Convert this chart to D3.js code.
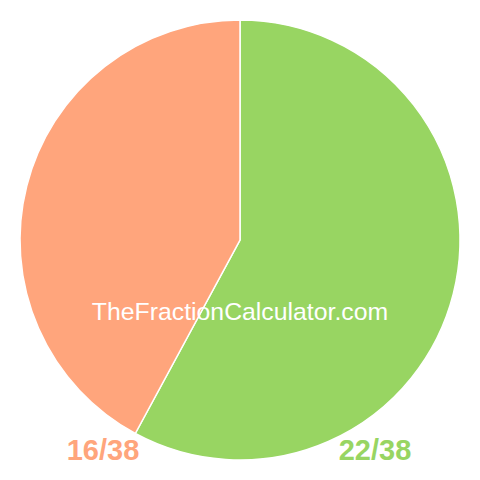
<!DOCTYPE html>
<html>
<head>
<meta charset="utf-8">
<script src="https://cdn.jsdelivr.net/npm/d3@7"></script>
<style>
  body { margin: 0; background: #fff; }
  text { font-family: "Liberation Sans", Arial, Helvetica, sans-serif; }
</style>
</head>
<body>
<script>
var labels = ["22/38", "16/38"]
var values = [22, 16]
var colors = ["#98d562", "#ffa57c"]
var labelX = [375, 103]

var width = 480
var height = 480
var radius = 220

var svg = d3.select("body").append("svg")
  .attr("width", width)
  .attr("height", height)

var pie = d3.pie().sort(null).value(function(d){ return d })
var arc = d3.arc().innerRadius(0).outerRadius(radius)

var g = svg.append("g").attr("transform", "translate(240,240)")

g.selectAll("path")
  .data(pie(values))
  .enter()
  .append("path")
  .attr("d", arc)
  .attr("fill", function(d, i){ return colors[i] })
  .attr("stroke", "white")
  .attr("stroke-width", 1.5)

svg.append("text")
  .text("TheFractionCalculator.com")
  .attr("x", 240).attr("y", 319.5)
  .attr("text-anchor", "middle")
  .attr("fill", "white")
  .style("font-size", "24.8px")

svg.selectAll(".lbl")
  .data(labels)
  .enter()
  .append("text")
  .attr("class", "lbl")
  .text(function(d){ return d })
  .attr("x", function(d, i){ return labelX[i] })
  .attr("y", 460)
  .attr("text-anchor", "middle")
  .attr("fill", function(d, i){ return colors[i] })
  .style("font-size", "29px")
  .style("font-weight", "bold")
</script>
</body>
</html>
